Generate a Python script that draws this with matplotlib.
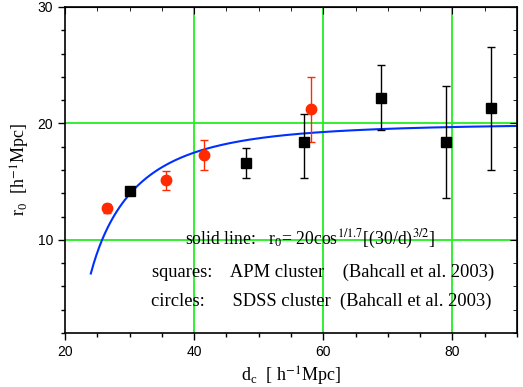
import numpy as np
import matplotlib
matplotlib.use("Agg")
import matplotlib.pyplot as plt
from matplotlib.ticker import MultipleLocator

plt.rcParams['mathtext.fontset'] = 'stix'

# APM clusters (squares)
apm_d = [30.0, 48.0, 57.0, 69.0, 79.0, 86.0]
apm_r = [14.2, 16.6, 18.4, 22.2, 18.4, 21.3]
apm_lo = [0.0, 1.3, 3.1, 2.8, 4.8, 5.3]
apm_hi = [0.0, 1.3, 2.4, 2.8, 4.8, 5.3]

# SDSS clusters (circles)
sdss_d = [26.5, 35.7, 41.5, 58.1]
sdss_r = [12.7, 15.1, 17.3, 21.2]
sdss_err = [0.4, 0.8, 1.3, 2.8]

serif = 'Liberation Serif'
sans = 'Liberation Sans'

fig = plt.figure(figsize=(5.23, 3.87), dpi=100)
ax = fig.add_axes([0.1243, 0.1395, 0.8642, 0.8425])

for x in [40, 60, 80]:
    ax.axvline(x, color='#22ee22', lw=1.3, zorder=0)
for y in [10, 20]:
    ax.axhline(y, color='#22ee22', lw=1.3, zorder=0)

d = np.linspace(24, 90, 300)
ax.plot(d, 20 * np.cos((30 / d) ** 1.5) ** (1 / 1.7), color='#0030ff', lw=1.5, zorder=2)

ax.errorbar(apm_d, apm_r, yerr=[apm_lo, apm_hi], fmt='s', color='black', ms=7.5,
            ecolor='black', elinewidth=1, capsize=3, zorder=3)
ax.errorbar(sdss_d, sdss_r, yerr=sdss_err, fmt='o', color='#ff2a00', ms=7.5,
            ecolor='#ff2a00', elinewidth=1, capsize=3, zorder=3)

ax.set_xlim(20, 90)
ax.set_ylim(2, 30)
ax.xaxis.set_major_locator(MultipleLocator(20))
ax.xaxis.set_minor_locator(MultipleLocator(5))
ax.yaxis.set_major_locator(MultipleLocator(10))
ax.yaxis.set_minor_locator(MultipleLocator(2))
ax.tick_params(which='both', direction='out', top=False, right=False, labelsize=10)
ax.tick_params(which='major', length=5, width=1)
ax.tick_params(which='minor', length=3, width=1)
for lab in ax.get_xticklabels() + ax.get_yticklabels():
    lab.set_fontfamily(sans)
for s in ax.spines.values():
    s.set_linewidth(1.2)

# inward ticks on top/right
sec = ax.secondary_xaxis('top')
sec.xaxis.set_major_locator(MultipleLocator(20))
sec.xaxis.set_minor_locator(MultipleLocator(5))
sec.tick_params(which='both', direction='in', labeltop=False)
sec.tick_params(which='major', length=5)
sec.tick_params(which='minor', length=3)
secy = ax.secondary_yaxis('right')
secy.yaxis.set_major_locator(MultipleLocator(10))
secy.yaxis.set_minor_locator(MultipleLocator(2))
secy.tick_params(which='both', direction='in', labelright=False)
secy.tick_params(which='major', length=5)
secy.tick_params(which='minor', length=3)

ax.set_xlabel(r'd$_\mathregular{c}$  [ h$^{-1}$Mpc]', fontfamily=serif, fontsize=13)
ax.set_ylabel(r'r$_\mathregular{0}$  [h$^{-1}$Mpc]', fontfamily=serif, fontsize=13)

ax.text(38.6, 10, r'solid line:   r$_\mathregular{0}$= 20cos$^{1/1.7}$[(30/d)$^{3/2}$]',
        fontfamily=serif, fontsize=12.7, va='center')
ax.text(33.5, 7.25, 'squares:    APM cluster    (Bahcall et al. 2003)',
        fontfamily=serif, fontsize=13.3, va='center')
ax.text(33.3, 4.7, 'circles:      SDSS cluster  (Bahcall et al. 2003)',
        fontfamily=serif, fontsize=13.3, va='center')

fig.savefig('out.png', dpi=100)
